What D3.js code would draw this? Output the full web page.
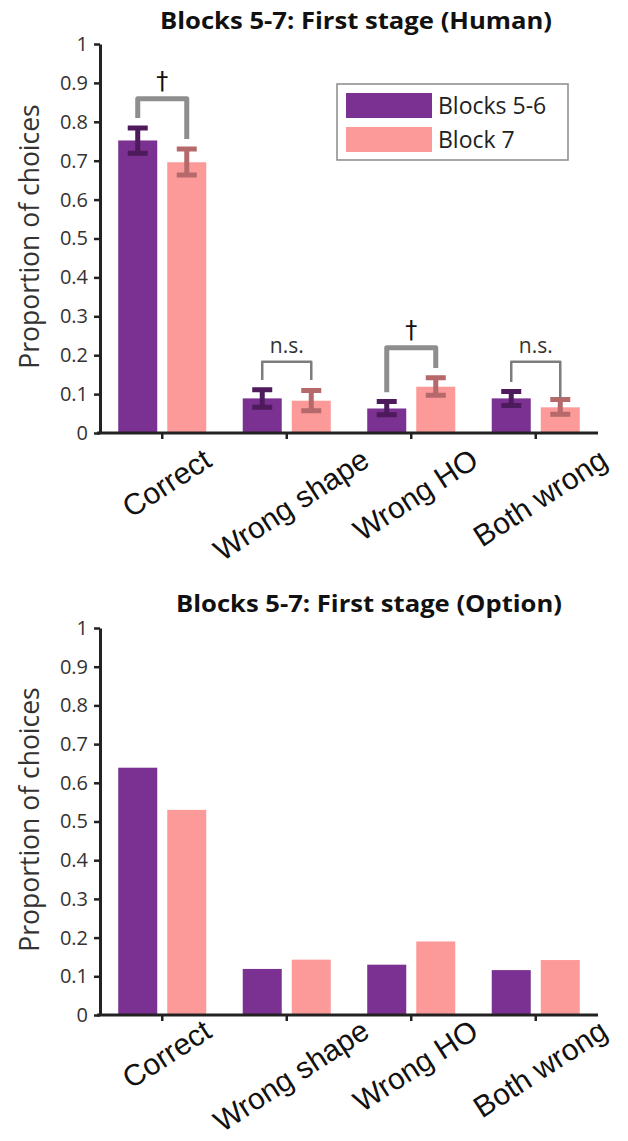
<!DOCTYPE html>
<html>
<head>
<meta charset="utf-8">
<script src="https://cdn.jsdelivr.net/npm/d3@7"></script>
<style>
  body { margin: 0; background: #fff; }
  svg { display: block; }
</style>
</head>
<body>
<div id="chart"></div>
<script>
// categories and series
var categories = ["Correct", "Wrong shape", "Wrong HO", "Both wrong"];
var seriesNames = ["Blocks 5-6", "Block 7"];
var yTickValues = [0, 0.1, 0.2, 0.3, 0.4, 0.5, 0.6, 0.7, 0.8, 0.9, 1];

// human panel (means and error bar ends)
var humanBlocks56 = [0.752, 0.089, 0.063, 0.089];
var humanBlocks56Lo = [0.719, 0.066, 0.047, 0.071];
var humanBlocks56Hi = [0.784, 0.111, 0.081, 0.107];
var humanBlock7 = [0.696, 0.083, 0.119, 0.066];
var humanBlock7Lo = [0.663, 0.057, 0.097, 0.048];
var humanBlock7Hi = [0.730, 0.109, 0.142, 0.086];

// significance brackets (human panel)
var sigLabels = ["\u2020", "n.s.", "\u2020", "n.s."];
var sigLevel = [0.859, 0.183, 0.219, 0.183];
var sigLeftEnd = [0.81, 0.136, 0.105, 0.131];
var sigRightEnd = [0.756, 0.136, 0.167, 0.09];
var sigStrong = [true, false, true, false];

// option panel
var optionBlocks56 = [0.639, 0.119, 0.130, 0.116];
var optionBlock7 = [0.530, 0.143, 0.190, 0.142];

var colors = ["#7b3191", "#fb9a99"];
var errColors = ["#4d1a5c", "#b5696b"];

var W = 628, H = 1141;
var svg = d3.select("#chart").append("svg")
    .attr("width", W)
    .attr("height", H);

function drawPanel(opt) {
    var g = svg.append("g");
    var left = 100, right = 598;

    var x0 = d3.scaleBand().domain(categories).range([left, right]).padding(0);
    var x1 = d3.scaleBand().domain(seriesNames).range([0, x0.bandwidth()])
        .paddingInner(0.204).paddingOuter(0.372);
    var y = d3.scaleLinear().domain([0, 1]).range([opt.bottom, opt.top]);

    // title
    g.append("text")
        .attr("x", opt.titleX)
        .attr("y", opt.titleY)
        .attr("text-anchor", "middle")
        .attr("textLength", opt.titleW)
        .attr("lengthAdjust", "spacingAndGlyphs")
        .style("font-family", "'Open Sans', sans-serif")
        .style("font-weight", "bold")
        .style("font-size", "24px")
        .style("fill", "#111")
        .text(opt.title);

    // bars
    var rows = [];
    categories.forEach(function(c, i) {
        opt.series.forEach(function(s, j) {
            rows.push({cat: c, name: seriesNames[j], j: j, v: s[i],
                lo: opt.lo ? opt.lo[j][i] : null, hi: opt.hi ? opt.hi[j][i] : null});
        });
    });

    g.selectAll("rect.bar").data(rows).enter().append("rect")
        .attr("class", "bar")
        .attr("x", function(d) { return x0(d.cat) + x1(d.name); })
        .attr("y", function(d) { return y(d.v); })
        .attr("width", x1.bandwidth())
        .attr("height", function(d) { return y(0) - y(d.v); })
        .style("fill", function(d) { return colors[d.j]; });

    // error bars
    if (opt.lo) {
        var cap = 10;
        var eb = g.selectAll("g.err").data(rows).enter().append("g")
            .attr("class", "err")
            .style("stroke", function(d) { return errColors[d.j]; })
            .style("stroke-width", 5)
            .style("fill", "none");
        eb.append("path")
            .attr("d", function(d) {
                var cx = x0(d.cat) + x1(d.name) + x1.bandwidth() / 2;
                return "M" + cx + "," + y(d.lo) + "V" + y(d.hi) +
                    "M" + (cx - cap) + "," + y(d.hi) + "H" + (cx + cap) +
                    "M" + (cx - cap) + "," + y(d.lo) + "H" + (cx + cap);
            });
    }

    // significance brackets
    if (opt.sig) {
        categories.forEach(function(c, i) {
            var xl = x0(c) + x1(seriesNames[0]) + x1.bandwidth() / 2;
            var xr = x0(c) + x1(seriesNames[1]) + x1.bandwidth() / 2;
            g.append("path")
                .attr("d", "M" + xl + "," + y(sigLeftEnd[i]) + "V" + y(sigLevel[i]) +
                    "H" + xr + "V" + y(sigRightEnd[i]))
                .style("fill", "none")
                .style("stroke", sigStrong[i] ? "#8e8e8e" : "#7d7d7d")
                .style("stroke-width", sigStrong[i] ? 5 : 2.5)
                .style("stroke-linejoin", "round");
            g.append("text")
                .attr("x", (xl + xr) / 2)
                .attr("y", y(sigLevel[i]) - (sigStrong[i] ? 10 : 9))
                .attr("text-anchor", "middle")
                .style("font-family", sigStrong[i] ? "'DejaVu Sans', sans-serif" : "'Open Sans', sans-serif")
                .style("font-size", sigStrong[i] ? "24px" : "21px")
                .style("fill", sigStrong[i] ? "#111" : "#333")
                .text(sigLabels[i]);
        });
    }

    // y axis
    var yAxis = g.append("g")
        .attr("transform", "translate(" + left + ",0)")
        .call(d3.axisLeft(y).tickValues(yTickValues).tickSize(6).tickSizeOuter(0)
            .tickPadding(6).tickFormat(function(d) { return String(d); }));
    yAxis.select(".domain").style("stroke", "#222").style("stroke-width", 3);
    yAxis.selectAll(".tick line").style("stroke", "#222").style("stroke-width", 2.5);
    yAxis.selectAll(".tick text")
        .style("font-family", "'Open Sans', sans-serif")
        .style("font-size", "20px")
        .style("fill", "#333");

    // x axis
    var xAxis = g.append("g")
        .attr("transform", "translate(0," + opt.bottom + ")")
        .call(d3.axisBottom(x0).tickSize(6).tickSizeOuter(0).tickFormat(""));
    xAxis.select(".domain").attr("d", "M" + (left - 3) + ",0H" + right)
        .style("stroke", "#222").style("stroke-width", 3);
    xAxis.selectAll(".tick line").style("stroke", "#222").style("stroke-width", 2.5);

    // rotated category labels
    var ang = 33, rad = ang * Math.PI / 180;
    categories.forEach(function(c) {
        var t = g.append("text")
            .attr("text-anchor", "middle")
            .style("font-family", "'Liberation Sans', Arial, sans-serif")
            .style("font-size", "30px")
            .style("fill", "#111")
            .text(c);
        var L = t.node().getComputedTextLength();
        var cx = x0(c) + x0.bandwidth() / 2 + 10;
        var cy = opt.bottom + opt.labelOffset + (L / 2) * Math.sin(rad);
        t.attr("transform", "translate(" + cx + "," + cy + ") rotate(" + (-ang) + ")");
    });

    // y label
    g.append("text")
        .attr("transform", "translate(" + 39 + "," + ((opt.top + opt.bottom) / 2 - 2) + ") rotate(-90)")
        .attr("text-anchor", "middle")
        .style("font-family", "'Open Sans', sans-serif")
        .style("font-size", "26.5px")
        .style("fill", "#333")
        .text("Proportion of choices");

    // legend
    if (opt.legend) {
        var lg = g.append("g");
        lg.append("rect")
            .attr("x", 337).attr("y", 84).attr("width", 231).attr("height", 76)
            .style("fill", "#fff").style("stroke", "#8a8a8a").style("stroke-width", 1.5);
        seriesNames.forEach(function(s, j) {
            lg.append("rect")
                .attr("x", 346).attr("y", 93 + j * 34).attr("width", 86).attr("height", 25)
                .style("fill", colors[j]);
            lg.append("text")
                .attr("x", 438).attr("y", 114 + j * 34)
                .style("font-family", "'Open Sans', sans-serif")
                .style("font-size", "23px")
                .style("fill", "#222")
                .text(s);
        });
    }
}

drawPanel({
    title: "Blocks 5-7: First stage (Human)",
    titleX: 356, titleY: 29, titleW: 392,
    top: 44, bottom: 433, labelOffset: 32,
    series: [humanBlocks56, humanBlock7],
    lo: [humanBlocks56Lo, humanBlock7Lo],
    hi: [humanBlocks56Hi, humanBlock7Hi],
    sig: true, legend: true
});

drawPanel({
    title: "Blocks 5-7: First stage (Option)",
    titleX: 369, titleY: 612, titleW: 386,
    top: 628, bottom: 1015, labelOffset: 21,
    series: [optionBlocks56, optionBlock7],
    sig: false, legend: false
});
</script>
</body>
</html>
